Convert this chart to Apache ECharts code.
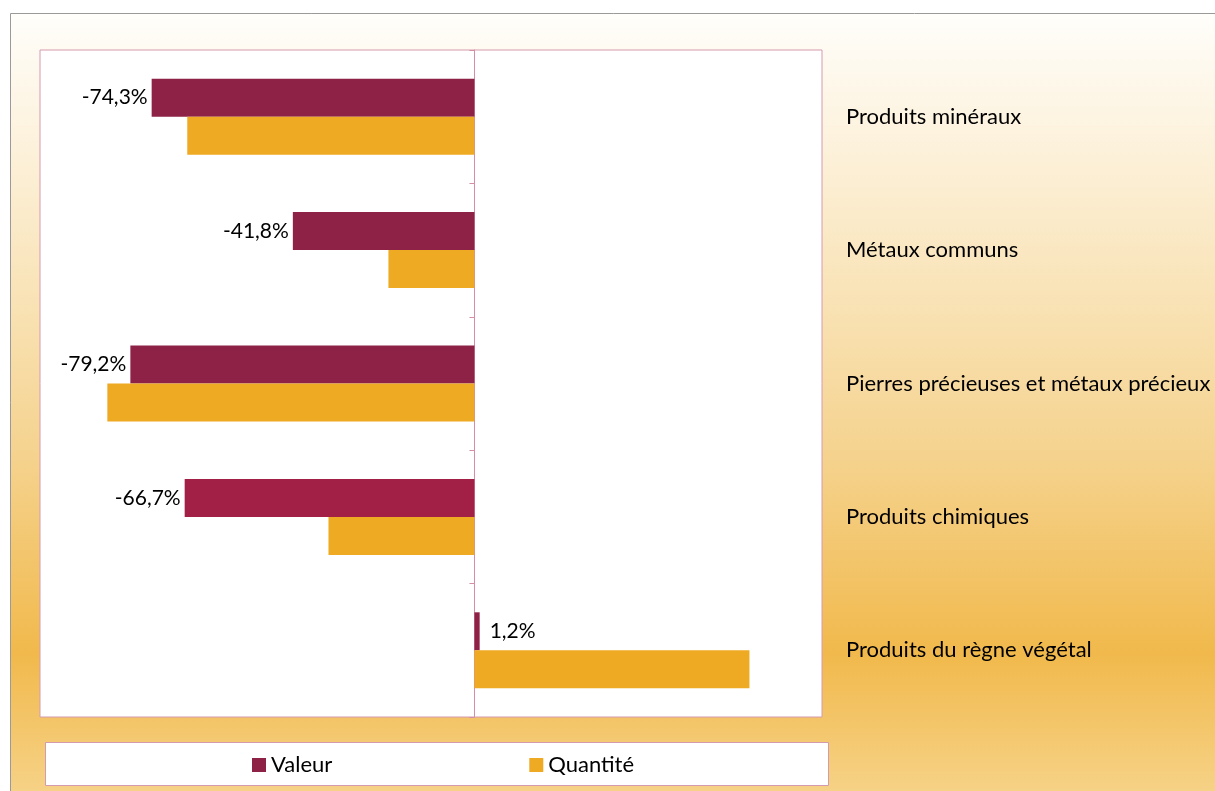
<!DOCTYPE html>
<html>
<head>
<meta charset="utf-8">
<style>
  html, body { margin: 0; padding: 0; background: #fff; }
  #chart { width: 1215px; height: 791px; }
</style>
<script src="https://cdn.jsdelivr.net/npm/echarts@6/dist/echarts.min.js"></script>
</head>
<body>
<div id="chart"></div>
<script>
// données (variation en %)
const categories = ['Produits minéraux', 'Métaux communs', 'Pierres précieuses et métaux précieux', 'Produits chimiques', 'Produits du règne végétal'];
const valeur = [-74.3, -41.8, -79.2, -66.7, 1.2];
const quantite = [-66.1, -19.8, -84.5, -33.6, 63.3];
const seriesNames = ['Valeur', 'Quantité'];

const font = 'Lato, "Open Sans", sans-serif';
const pink = '#D49AAE';

const chart = echarts.init(document.getElementById('chart'));

// barre "Produits chimiques" un peu plus rouge dans l'original
const valeurData = valeur.map((v, i) => ({
    value: v,
    itemStyle: i === 3 ? { color: '#A21F45' } : undefined,
    label: v < 0 ? { position: 'left', distance: 4 } : { position: 'right', distance: 10 }
}));

chart.setOption({
    backgroundColor: '#fff',
    textStyle: { fontFamily: font },
    graphic: [
        { // cadre avec dégradé
            type: 'rect', z: -10,
            shape: { x: 10.5, y: 13.5, width: 1230, height: 800 },
            style: {
                stroke: '#9a9a9a', lineWidth: 1,
                fill: new echarts.graphic.LinearGradient(0, 0, 0, 1, [
                    { offset: 0, color: '#FFFEFB' },
                    { offset: 0.25, color: '#FBEBCB' },
                    { offset: 0.55, color: '#F5D38F' },
                    { offset: 0.8, color: '#F1B94C' },
                    { offset: 1, color: '#F7D690' }
                ])
            }
        },
        { // cadre de la légende
            type: 'rect', z: -5,
            shape: { x: 45.5, y: 742.5, width: 783, height: 43 },
            style: { fill: '#fff', stroke: pink, lineWidth: 1 }
        }
    ],
    grid: {
        left: 40, top: 50, width: 782, height: 667,
        show: true, backgroundColor: '#fff', borderColor: pink, borderWidth: 1
    },
    legend: {
        data: seriesNames,
        left: 247, top: 749,
        icon: 'rect', itemWidth: 14, itemHeight: 14, itemGap: 197,
        textStyle: { fontSize: 22, color: '#000', fontFamily: font }
    },
    xAxis: {
        type: 'value', min: -100, max: 80,
        axisLabel: { show: false }, axisLine: { show: false },
        axisTick: { show: false }, splitLine: { show: false }
    },
    yAxis: [
        { // libellés à droite
            type: 'category', data: categories, inverse: true, position: 'right',
            axisLine: { show: false, onZero: false }, axisTick: { show: false },
            axisLabel: { margin: 24, fontSize: 22, color: '#000', align: 'left', fontFamily: font, padding: [3, 0, 0, 0] }
        },
        { // axe vertical sur le zéro
            type: 'category', data: categories, inverse: true, position: 'left',
            axisLine: { show: true, onZero: true, lineStyle: { color: '#D58EA6', width: 1 } },
            axisTick: { show: true, length: 5, lineStyle: { color: '#D58EA6' } },
            axisLabel: { show: false }
        }
    ],
    series: [{
        name: seriesNames[0],
        type: 'bar',
        yAxisIndex: 0,
        barWidth: 38,
        barGap: '0%',
        itemStyle: { color: '#8E2246' },
        label: {
            show: true, fontSize: 21, color: '#000', fontFamily: font,
            formatter: p => String(p.value.toFixed(1)).replace('.', ',') + '%'
        },
        data: valeurData
    }, {
        name: seriesNames[1],
        type: 'bar',
        yAxisIndex: 0,
        barWidth: 38,
        barGap: '0%',
        itemStyle: { color: '#EEAA22' },
        data: quantite
    }]
});
</script>
</body>
</html>
